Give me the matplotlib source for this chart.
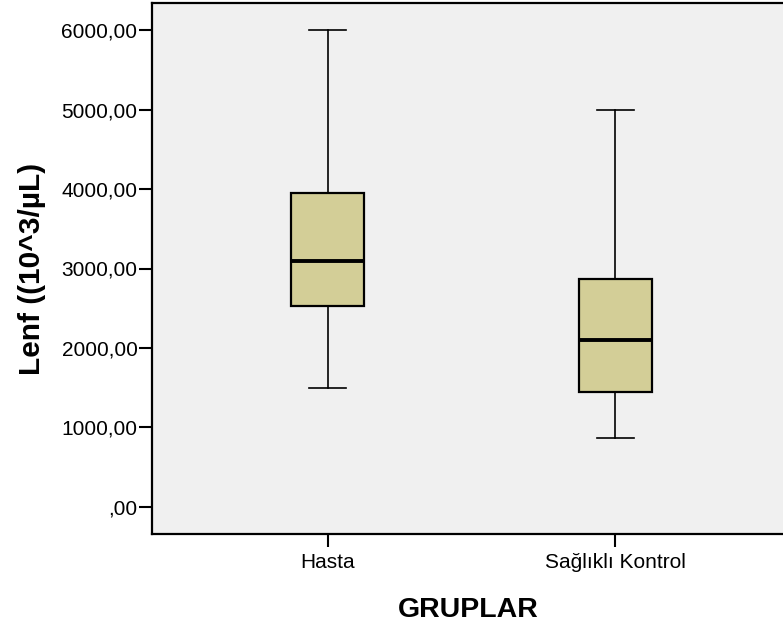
import matplotlib.pyplot as plt
import matplotlib

matplotlib.rcParams['font.family'] = ['Liberation Sans', 'DejaVu Sans']

groups = ['Hasta', 'Sağlıklı Kontrol']
whislo = [1500, 865]
q1 = [2530, 1450]
med = [3095, 2100]
q3 = [3945, 2870]
whishi = [6000, 5000]
yticks = [0, 1000, 2000, 3000, 4000, 5000, 6000]

stats = []
for i in range(len(groups)):
    stats.append({'label': groups[i], 'whislo': whislo[i], 'q1': q1[i], 'med': med[i],
                  'q3': q3[i], 'whishi': whishi[i], 'fliers': []})

fig = plt.figure(figsize=(7.83, 6.31), dpi=100)
ax = fig.add_axes([152/783, 97/631, 1.003 - 152/783, (534-3)/631])
ax.set_facecolor('#F0F0F0')

ax.bxp(stats, positions=[1, 2], widths=0.252, patch_artist=True, showfliers=False,
       boxprops=dict(facecolor='#D3CE97', edgecolor='black', linewidth=1.6),
       medianprops=dict(color='black', linewidth=2.8),
       whiskerprops=dict(color='black', linewidth=1.2),
       capprops=dict(color='black', linewidth=1.2),
       capwidths=0.126)

ax.set_xlim(0.39, 2.59)
ax.set_ylim(-340, 6340)
ax.set_yticks(yticks)
ax.set_yticklabels([(str(v) if v else '') + ',00' for v in yticks])
ax.set_xticks([1, 2])
ax.set_xticklabels(groups)
ax.tick_params(axis='both', direction='out', length=9.5, width=1.5, labelsize=15)
ax.tick_params(axis='y', pad=1)
ax.tick_params(axis='x', pad=4)

for s in ['left', 'bottom', 'top']:
    ax.spines[s].set_linewidth(1.6)
ax.spines['right'].set_visible(False)

ax.set_ylabel('Lenf ((10^3/µL)', fontsize=21.5, fontweight='bold', labelpad=11)
ax.set_xlabel('GRUPLAR', fontsize=20.5, fontweight='bold', labelpad=18)

plt.savefig('out.png', dpi=100)
